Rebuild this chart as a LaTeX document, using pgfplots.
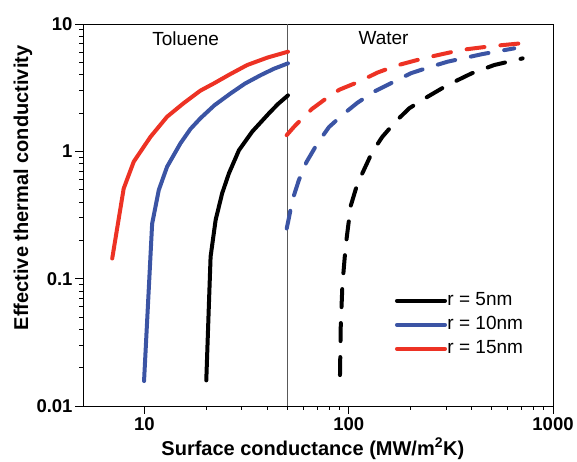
\documentclass[border=0pt]{standalone}
\usepackage{pgfplots}
\pgfplotsset{compat=1.18}
\usepackage{fontspec}
\setmainfont{Liberation Sans}
\definecolor{cred}{RGB}{237,50,36}
\definecolor{cblue}{RGB}{59,84,164}
\begin{document}
\begin{tikzpicture}
\path[use as bounding box] (-83pt,-55pt) rectangle (494pt,406pt);
\begin{axis}[
  at={(0pt,0pt)}, anchor=south west,
  scale only axis, width=470pt, height=382pt,
  xmode=log, ymode=log,
  xmin=5, xmax=1000, ymin=0.01, ymax=10,
  xtick={10,100,1000}, xticklabels={10,100,1000},
  ytick={0.01,0.1,1,10}, yticklabels={0.01,0.1,1,10},
  tick align=outside, xtick pos=bottom, ytick pos=left,
  major tick length=8pt, minor tick length=4pt,
  every tick/.style={black, line width=0.9pt},
  axis line style={line width=0.9pt},
  /pgf/number format/assume math mode=true,
  ticklabel style={font=\fontsize{18.5}{18.5}\selectfont\bfseries},
  yticklabel style={xshift=1pt},
  xlabel={Surface conductance (MW/m\textsuperscript{2}K)},
  ylabel={Effective thermal conductivity},
  every axis x label/.style={at={(axis description cs:0.489,0)}, anchor=base, yshift=-49pt, font=\fontsize{20}{20}\selectfont\bfseries},
  every axis y label/.style={at={([xshift=-55pt]axis description cs:0,0.571)}, rotate=90, anchor=base, font=\fontsize{20}{20}\selectfont\bfseries},
  legend style={at={(rel axis cs:0.657,0.306)}, anchor=north west, draw=none, fill=none,
    font=\fontsize{19}{19}\selectfont, row sep=5pt,
    nodes={inner sep=0.5pt, text height=14pt, text depth=4pt}},
  legend cell align=left,
  legend image code/.code={\draw[#1, solid] (0pt,0pt) -- (48pt,0pt);},
  clip=false,
]
% vertical separator
\addplot[forget plot, gray!70!black, line width=0.7pt] coordinates {(50,0.01) (50,10)};

\addplot[black, line width=4pt, line cap=round, line join=round] coordinates {
(20.07,0.0159) (20.65,0.060) (21.07,0.149) (22.3,0.289) (24.0,0.468) (25.9,0.671) (29.0,1.02) (33.7,1.43) (40.7,1.99) (45,2.35) (50.4,2.75)};
\addlegendentry{r = 5nm}
\addplot[cblue, line width=4pt, line cap=round, line join=round] coordinates {
(9.95,0.0157) (10.9,0.27) (11.75,0.497) (12.9,0.757) (15.0,1.156) (16.8,1.5) (18.8,1.82) (22,2.3) (26.4,2.85) (31,3.4) (37.1,3.97) (43,4.45) (50.4,4.91)};
\addlegendentry{r = 10nm}
\addplot[cred, line width=4pt, line cap=round, line join=round] coordinates {
(6.95,0.144) (7.91,0.51) (8.86,0.83) (10.7,1.30) (12.9,1.87) (15.6,2.4) (18.8,3.0) (21.9,3.42) (26,4.0) (31.8,4.76) (40,5.45) (50.4,6.06)};
\addlegendentry{r = 15nm}

\addplot[forget plot, black, line width=4pt, line cap=round, line join=round, dash pattern=on 18pt off 16pt] coordinates {
(90.6,0.0175) (91.4,0.043) (93.1,0.089) (96.6,0.181) (102.3,0.374) (110,0.55) (119,0.722) (130,0.98) (146,1.30) (170,1.72) (198,2.18) (240,2.65) (305,3.32) (400,4.1) (515,4.76) (710,5.37)};
\addplot[forget plot, cblue, line width=4pt, line cap=round, line join=round, dash pattern=on 18pt off 16pt] coordinates {
(49.7,0.248) (50.9,0.298) (53,0.414) (57,0.595) (62,0.82) (70.3,1.156) (80,1.55) (93,1.93) (110,2.4) (133,2.94) (165,3.5) (201,4.1) (250,4.6) (305,5.06) (450,5.8) (646,6.44)};
\addplot[forget plot, cred, line width=4pt, line cap=round, line join=round, dash pattern=on 18pt off 16pt] coordinates {
(49.7,1.34) (54,1.56) (60,1.85) (66,2.15) (75.7,2.53) (90,3.05) (112,3.52) (138,4.15) (170,4.7) (210,5.15) (260,5.6) (354,6.25) (500,6.7) (697,7.05)};

\node[font=\fontsize{19}{19}\selectfont] at (axis cs:15.9,7.62) {Toluene};
\node[font=\fontsize{19}{19}\selectfont] at (axis cs:148,7.72) {Water};
\end{axis}
\end{tikzpicture}
\end{document}
